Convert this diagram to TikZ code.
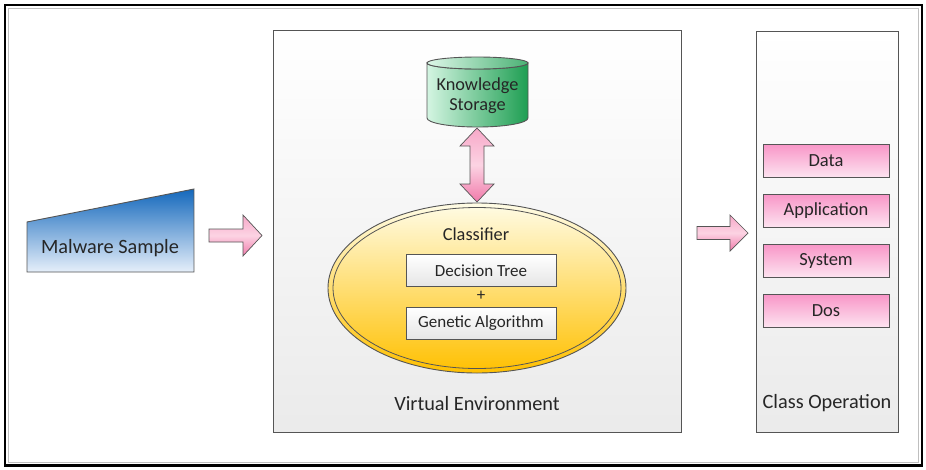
\documentclass[tikz,border=0pt]{standalone}
\usepackage{fontspec}
\setmainfont{Carlito}
\usetikzlibrary{calc}
\definecolor{txt}{HTML}{262626}
\definecolor{edge}{HTML}{555555}
\tikzset{
  panel/.style={draw=edge, line width=0.9pt, top color=white, bottom color=black!8},
  pinkbox/.style={draw=edge, line width=0.9pt, top color=pink1, bottom color=pink2, minimum width=126pt, minimum height=33pt, inner sep=0pt, font=\fontsize{18.5}{21}\selectfont, text=txt},
  greybox/.style={draw=edge, line width=0.9pt, top color=white, bottom color=black!10, minimum width=150pt, minimum height=32pt, inner sep=0pt, font=\fontsize{17}{20}\selectfont, text=txt},
  blockarrow/.style={draw=edge, line width=0.7pt, top color=arrowtop, bottom color=arrowbot, middle color=arrowmid},
  bigtext/.style={font=\fontsize{20.3}{23}\selectfont, text=txt, inner sep=0pt},
  midtext/.style={font=\fontsize{18.3}{21}\selectfont, text=txt, inner sep=0pt, align=center},
}
\definecolor{pink1}{HTML}{F895C7}
\definecolor{pink2}{HTML}{FDE3F0}
\definecolor{arrowtop}{HTML}{F7A8C8}
\definecolor{arrowmid}{HTML}{FCD3E3}
\definecolor{arrowbot}{HTML}{F07AAA}
\definecolor{blue1}{HTML}{1468BC}
\definecolor{blue2}{HTML}{E6EFFA}
\definecolor{green1}{HTML}{D4F5E2}
\definecolor{green2}{HTML}{1E9E52}
\definecolor{yel1}{HTML}{FFFCE6}
\definecolor{yel2}{HTML}{FFC000}
\begin{document}
\begin{tikzpicture}[x=1pt,y=-1pt]
\useasboundingbox (0,0) rectangle (926,469);
\fill[white] (0,0) rectangle (926,469);
% outer frame
\draw[black, line width=2.6pt] (5,5) rectangle (922,465.5);
\draw[black!25, line width=0.8pt] (8.5,8.5) rectangle (918.5,462);

% panels
\draw[panel] (273,30) rectangle (681,432);
\draw[panel] (756,31) rectangle (898,432);
\node[bigtext] (ve) at (477,404) {Virtual Environment};
\node[bigtext] (co) at (827,403) {Class Operation};

% malware sample trapezoid
\shade[top color=blue1, bottom color=blue2, draw=edge, line width=0.9pt]
  (27,222) -- (194,189) -- (194,272) -- (27,272) -- cycle;
\node[bigtext, text=black!85] (ms) at (110,248) {Malware Sample};

% knowledge storage cylinder
\shade[left color=green1, right color=green2, draw=edge, line width=0.9pt]
  (427,63) -- (427,118) arc[start angle=180, end angle=0, x radius=50.5, y radius=9]
  -- (528,63) arc[start angle=0, end angle=180, x radius=50.5, y radius=6] -- cycle;
\shade[left color=green1!80!white, right color=green2!80!white, draw=edge, line width=0.9pt]
  (477.5,63) ellipse[x radius=50.5, y radius=6];
\node[midtext, minimum width=101pt, minimum height=60pt] (ks) at (477.5,96) {Knowledge\\[-1pt]Storage};

% classifier ellipse
\shade[top color=yel1, bottom color=yel2, draw=edge, line width=0.9pt]
  (477,288) ellipse[x radius=149, y radius=85];
\draw[edge, line width=0.8pt] (477,288) ellipse[x radius=144, y radius=80.5];
\node[minimum width=298pt, minimum height=170pt, inner sep=0pt] (clf) at (477,288) {};
\node[midtext] (clt) at (476,234) {Classifier};
\node[greybox] (dt) at (481,270.5) {Decision Tree};
\node[font=\fontsize{17}{20}\selectfont, text=txt, inner sep=0pt] (plus) at (481,296) {+};
\node[greybox] (ga) at (481,323.5) {Genetic Algorithm};

% class operation boxes
\node[pinkbox] (data) at (826,160.5) {Data};
\node[pinkbox] (app) at (826,210.5) {Application};
\node[pinkbox] (sys) at (826,260.5) {System};
\node[pinkbox] (dos) at (826,310.5) {Dos};

% block arrows
% left: malware -> virtual environment
\shade[blockarrow] (209,229) -- (243,229) -- (243,215) -- (262,235.5) -- (243,256) -- (243,242) -- (209,242) -- cycle;
% right: virtual environment -> class operation
\shade[blockarrow] (697,226.5) -- (730,226.5) -- (730,215) -- (748,233) -- (730,251) -- (730,239.5) -- (697,239.5) -- cycle;
% double arrow: storage <-> classifier
\shade[blockarrow] (477,128) -- (494,146) -- (484,146) -- (484,184) -- (494,184) -- (477,202)
  -- (460,184) -- (470,184) -- (470,146) -- (460,146) -- cycle;
\end{tikzpicture}
\end{document}
